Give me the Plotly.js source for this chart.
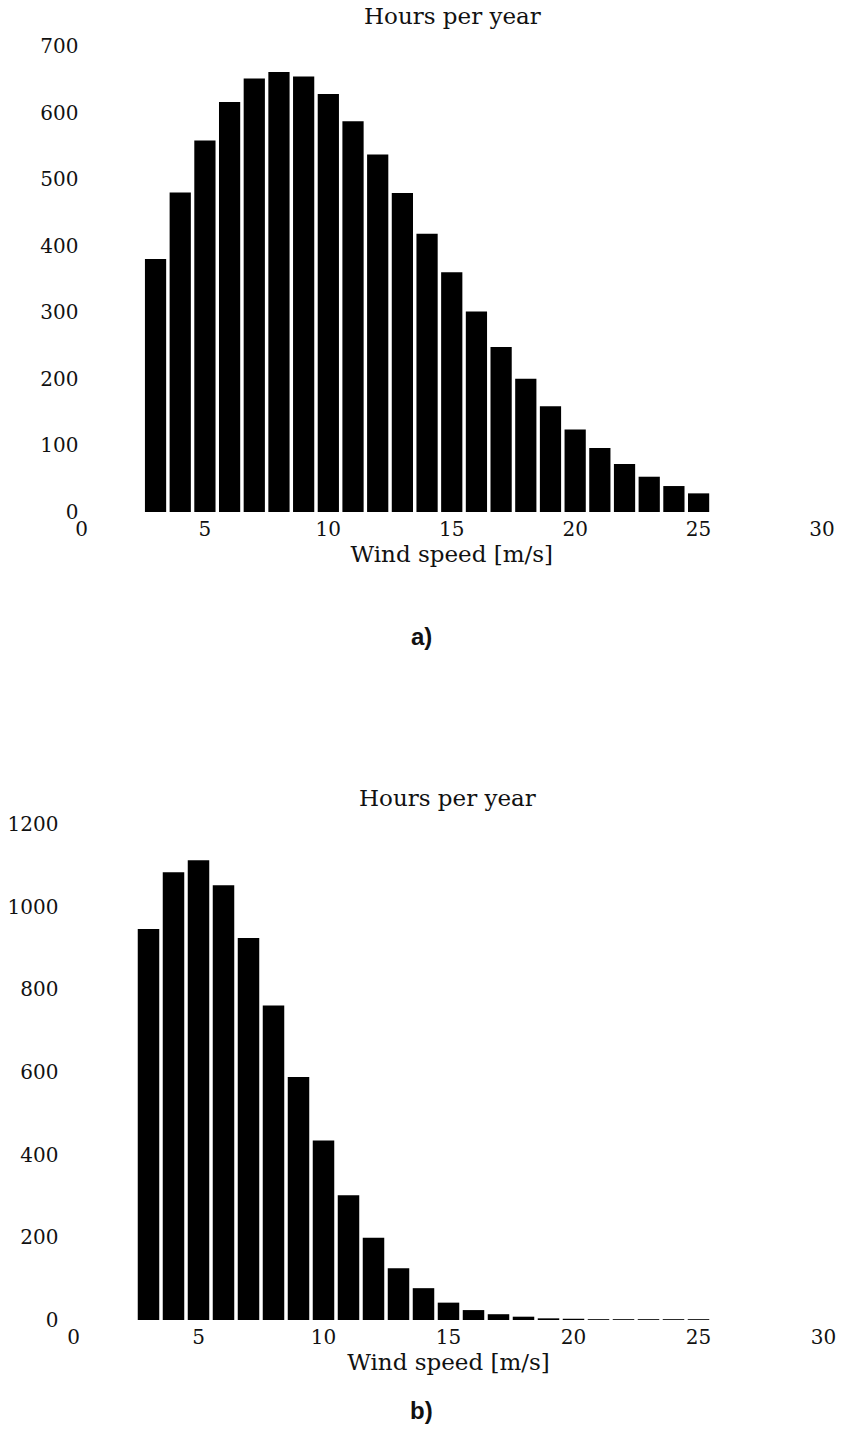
<!DOCTYPE html>
<html>
<head>
<meta charset="utf-8">
<script src="https://cdn.plot.ly/plotly-3.0.1.min.js"></script>
<style>
  html, body { margin: 0; padding: 0; background: #ffffff; }
  #chart { width: 843px; height: 1442px; }
</style>
</head>
<body>
<div id="chart"></div>
<script>
// Wind speed classes [m/s]
const windSpeeds = [3, 4, 5, 6, 7, 8, 9, 10, 11, 12, 13, 14, 15, 16, 17, 18, 19, 20, 21, 22, 23, 24, 25];
// a) Hours per year
const hoursA = [380, 480, 558, 616, 651, 661, 654, 628, 587, 537, 479, 418, 360, 301, 248, 200, 159, 124, 96, 72, 53, 39, 28];
// b) Hours per year
const hoursB = [946, 1083, 1112, 1052, 924, 761, 588, 434, 302, 199, 125, 77, 42, 24, 14, 8, 4, 3, 2, 2, 2, 2, 2];

const chartTitle = 'Hours per year';
const xTitle = 'Wind speed [m/s]';
const panelLabels = ['a)', 'b)'];

const W = 843, H = 1442;
const px = v => v / W;
const py = v => 1 - v / H;

const tickFont = { family: 'DejaVu Serif, Liberation Serif, serif', size: 20, color: '#111111' };
const titleFont = { family: 'DejaVu Serif, Liberation Serif, serif', size: 23, color: '#111111' };

const traces = [
  { type: 'bar', x: windSpeeds, y: hoursA, xaxis: 'x', yaxis: 'y',
    marker: { color: '#000000', line: { width: 0 } }, hoverinfo: 'x+y' },
  { type: 'bar', x: windSpeeds, y: hoursB, xaxis: 'x2', yaxis: 'y2',
    marker: { color: '#000000', line: { width: 0 } }, hoverinfo: 'x+y' }
];

function xAxis(domain, anchor) {
  return {
    domain: domain, anchor: anchor, range: [0, 30], tick0: 0, dtick: 5,
    showgrid: false, zeroline: false, showline: false, ticks: '',
    tickfont: tickFont, ticklabelstandoff: 3,
    title: { text: xTitle, font: titleFont, standoff: 2 },
    automargin: false, fixedrange: true
  };
}
function yAxis(domain, anchor, max, step, standoff) {
  return {
    domain: domain, anchor: anchor, range: [0, max], tick0: 0, dtick: step,
    showgrid: false, zeroline: false, showline: false, ticks: '',
    tickfont: tickFont, ticklabelstandoff: standoff,
    automargin: false, fixedrange: true
  };
}

const layout = {
  width: W, height: H,
  margin: { l: 0, r: 0, t: 0, b: 0 },
  paper_bgcolor: '#ffffff', plot_bgcolor: '#ffffff',
  showlegend: false, bargap: 0.14,
  xaxis: xAxis([px(81.5), px(822)], 'y'),
  yaxis: yAxis([py(512), py(46)], 'x', 700, 100, 2),
  xaxis2: xAxis([px(73.5), px(823.5)], 'y2'),
  yaxis2: yAxis([py(1320), py(824)], 'x2', 1200, 200, 14),
  annotations: [
    { text: chartTitle, xref: 'paper', yref: 'paper', x: px(452), y: py(16),
      xanchor: 'center', yanchor: 'middle', showarrow: false, font: titleFont },
    { text: chartTitle, xref: 'paper', yref: 'paper', x: px(448), y: py(798),
      xanchor: 'center', yanchor: 'middle', showarrow: false, font: titleFont },
    { text: '<b>' + panelLabels[0] + '</b>', xref: 'paper', yref: 'paper', x: px(421), y: py(636),
      xanchor: 'center', yanchor: 'middle', showarrow: false,
      font: { family: 'Liberation Sans Narrow, Liberation Sans, Arial, sans-serif', size: 24, color: '#111111' } },
    { text: '<b>' + panelLabels[1] + '</b>', xref: 'paper', yref: 'paper', x: px(421), y: py(1410),
      xanchor: 'center', yanchor: 'middle', showarrow: false,
      font: { family: 'Liberation Sans Narrow, Liberation Sans, Arial, sans-serif', size: 24, color: '#111111' } }
  ]
};

Plotly.newPlot('chart', traces, layout, { staticPlot: true, displayModeBar: false, responsive: false });
</script>
</body>
</html>
